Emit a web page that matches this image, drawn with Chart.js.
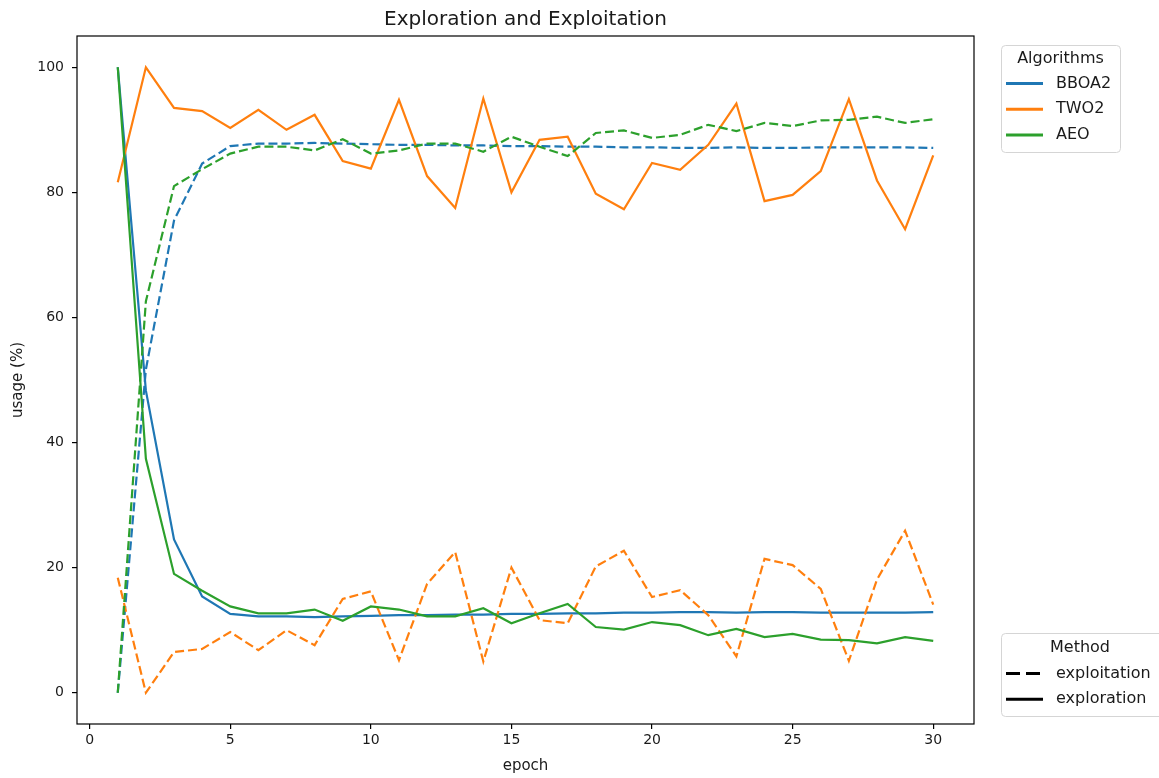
<!DOCTYPE html>
<html>
<head>
<meta charset="utf-8">
<title>Exploration and Exploitation</title>
<script src="https://cdn.jsdelivr.net/npm/chart.js@4.4.1/dist/chart.umd.min.js"></script>
<style>
  html, body { margin: 0; padding: 0; background: #ffffff; }
  #chart { display: block; }
</style>
</head>
<body>
<canvas id="chart" width="1159" height="778"></canvas>
<script>
"use strict";

// ── Data ──────────────────────────────────────────────────────────────────────
const epochs = [1, 2, 3, 4, 5, 6, 7, 8, 9, 10, 11, 12, 13, 14, 15,
                16, 17, 18, 19, 20, 21, 22, 23, 24, 25, 26, 27, 28, 29, 30];

const bboaExploration = [100, 48.3, 24.5, 15.4, 12.6, 12.2, 12.2, 12.1, 12.2, 12.3,
                         12.4, 12.4, 12.5, 12.5, 12.6, 12.6, 12.7, 12.7, 12.8, 12.8,
                         12.9, 12.9, 12.8, 12.9, 12.9, 12.8, 12.8, 12.8, 12.8, 12.9];
const bboaExploitation = [0, 51.7, 75.5, 84.6, 87.4, 87.8, 87.8, 87.9, 87.8, 87.7,
                          87.6, 87.6, 87.5, 87.5, 87.4, 87.4, 87.3, 87.3, 87.2, 87.2,
                          87.1, 87.1, 87.2, 87.1, 87.1, 87.2, 87.2, 87.2, 87.2, 87.1];

const twoExploration = [81.6, 100, 93.5, 93.0, 90.3, 93.2, 90.0, 92.4, 85.0, 83.8,
                        94.8, 82.6, 77.5, 95.0, 80.0, 88.4, 88.9, 79.8, 77.3, 84.7,
                        83.6, 87.6, 94.2, 78.6, 79.6, 83.4, 94.9, 81.9, 74.1, 85.9];
const twoExploitation = [18.4, 0, 6.5, 7.0, 9.7, 6.8, 10.0, 7.6, 15.0, 16.2,
                         5.2, 17.4, 22.5, 5.0, 20.0, 11.6, 11.1, 20.2, 22.7, 15.3,
                         16.4, 12.4, 5.8, 21.4, 20.4, 16.6, 5.1, 18.1, 25.9, 14.1];

const aeoExploration = [100, 37.4, 19.0, 16.3, 13.8, 12.7, 12.7, 13.3, 11.5, 13.8,
                        13.3, 12.2, 12.2, 13.5, 11.1, 12.7, 14.2, 10.5, 10.1, 11.3,
                        10.8, 9.2, 10.2, 8.9, 9.4, 8.5, 8.4, 7.9, 8.9, 8.3];
const aeoExploitation = [0, 62.6, 81.0, 83.7, 86.2, 87.3, 87.3, 86.7, 88.5, 86.2,
                         86.7, 87.8, 87.8, 86.5, 88.9, 87.3, 85.8, 89.5, 89.9, 88.7,
                         89.2, 90.8, 89.8, 91.1, 90.6, 91.5, 91.6, 92.1, 91.1, 91.7];

const xTicks = [0, 5, 10, 15, 20, 25, 30];
const yTicks = [0, 20, 40, 60, 80, 100];

const algorithmNames = ["BBOA2", "TWO2", "AEO"];
const methodNames    = ["exploitation", "exploration"];

// ── Style ─────────────────────────────────────────────────────────────────────
const CLR = {
  blue:   "#1f77b4",
  orange: "#ff7f0e",
  green:  "#2ca02c",
  ink:    "#000000",
  text:   "#1a1a1a",
  frame:  "#d5d5d5",
};
const algorithmColors = [CLR.blue, CLR.orange, CLR.green];
const FONT = "'DejaVu Sans', 'Noto Sans', sans-serif";
const LINE_W = 2.2;
const DASH = [9, 4];

// ── Datasets: each algorithm gets a dashed (exploitation) + solid (exploration) line
const series = [
  [bboaExploitation, bboaExploration],
  [twoExploitation,  twoExploration],
  [aeoExploitation,  aeoExploration],
];

const datasets = [];
series.forEach(([exploit, explore], i) => {
  [[exploit, DASH], [explore, []]].forEach(([vals, dash]) => {
    datasets.push({
      data: vals.map((v, k) => ({ x: epochs[k], y: v })),
      borderColor: algorithmColors[i],
      borderWidth: LINE_W,
      borderDash: dash,
      pointRadius: 0,
      tension: 0,
      fill: false,
    });
  });
});
// later series sit on top of earlier ones
datasets.forEach((ds, i) => { ds.order = datasets.length - i; });

// ── Plugins: axes frame + the two legend boxes ────────────────────────────────
const framePlugin = {
  id: "frame",
  afterDraw(chart) {
    const { ctx, chartArea: a } = chart;
    ctx.save();
    ctx.strokeStyle = CLR.ink;
    ctx.lineWidth = 1.2;
    ctx.strokeRect(a.left, a.top, a.right - a.left, a.bottom - a.top);
    ctx.restore();
  },
};

function legendBox(ctx, x, y, w, h) {
  ctx.save();
  ctx.fillStyle = "rgba(255,255,255,0.8)";
  ctx.strokeStyle = CLR.frame;
  ctx.lineWidth = 1;
  ctx.beginPath();
  ctx.roundRect(x + 0.5, y + 0.5, w, h, 4);
  ctx.fill();
  ctx.stroke();
  ctx.restore();
}

const legendPlugin = {
  id: "boxLegends",
  afterDraw(chart) {
    const ctx = chart.ctx;
    ctx.save();
    ctx.font = `16px ${FONT}`;
    ctx.textBaseline = "middle";
    ctx.fillStyle = CLR.text;

    // Algorithms
    legendBox(ctx, 1001, 45, 119, 107);
    ctx.textAlign = "center";
    ctx.fillText("Algorithms", 1060.5, 59);
    ctx.textAlign = "left";
    algorithmNames.forEach((name, i) => {
      const y = 83.5 + i * 25.8;
      ctx.strokeStyle = algorithmColors[i];
      ctx.lineWidth = 3;
      ctx.setLineDash([]);
      ctx.beginPath();
      ctx.moveTo(1006, y);
      ctx.lineTo(1043, y);
      ctx.stroke();
      ctx.fillText(name, 1056, y);
    });

    // Method
    legendBox(ctx, 1001, 633, 165, 83);
    ctx.textAlign = "center";
    ctx.fillText("Method", 1080, 647.5);
    ctx.textAlign = "left";
    methodNames.forEach((name, i) => {
      const y = 673.5 + i * 25.8;
      ctx.strokeStyle = CLR.ink;
      ctx.lineWidth = 3;
      ctx.setLineDash(i === 0 ? [14, 6] : []);
      ctx.beginPath();
      ctx.moveTo(1006, y);
      ctx.lineTo(1043, y);
      ctx.stroke();
      ctx.fillText(name, 1056, y);
    });
    ctx.restore();
  },
};

// ── Chart ─────────────────────────────────────────────────────────────────────
const tickGrid = {
  display: true,
  drawOnChartArea: false,
  drawTicks: true,
  tickLength: 5,
  color: CLR.ink,
  lineWidth: 1.2,
};

new Chart(document.getElementById("chart"), {
  type: "line",
  data: { datasets },
  plugins: [framePlugin, legendPlugin],
  options: {
    responsive: false,
    animation: false,
    layout: { padding: { left: 0, right: 185, top: 0, bottom: 0 } },
    scales: {
      x: {
        type: "linear",
        min: -0.45,
        max: 31.45,
        border: { display: false },
        grid: tickGrid,
        afterBuildTicks: s => { s.ticks = xTicks.map(v => ({ value: v })); },
        afterFit: s => { s.height = 54; },
        ticks: {
          color: CLR.text,
          font: { family: FONT, size: 14 },
          padding: 3,
          maxRotation: 0,
        },
        title: {
          display: true,
          text: "epoch",
          color: CLR.text,
          font: { family: FONT, size: 15 },
          padding: { top: 0, bottom: 3 },
        },
      },
      y: {
        type: "linear",
        min: -5,
        max: 105,
        border: { display: false },
        grid: tickGrid,
        afterBuildTicks: s => { s.ticks = yTicks.map(v => ({ value: v })); },
        afterFit: s => { s.width = 77; },
        ticks: {
          color: CLR.text,
          font: { family: FONT, size: 14 },
          padding: 8,
        },
        title: {
          display: true,
          text: "usage (%)",
          color: CLR.text,
          font: { family: FONT, size: 15 },
          padding: { top: 9, bottom: 0 },
        },
      },
    },
    plugins: {
      legend: { display: false },
      tooltip: { enabled: false },
      title: {
        display: true,
        text: "Exploration and Exploitation",
        fullSize: false,
        color: CLR.text,
        font: { family: FONT, size: 20, weight: "normal" },
        padding: { top: 8, bottom: 4 },
      },
    },
  },
});
</script>
</body>
</html>
